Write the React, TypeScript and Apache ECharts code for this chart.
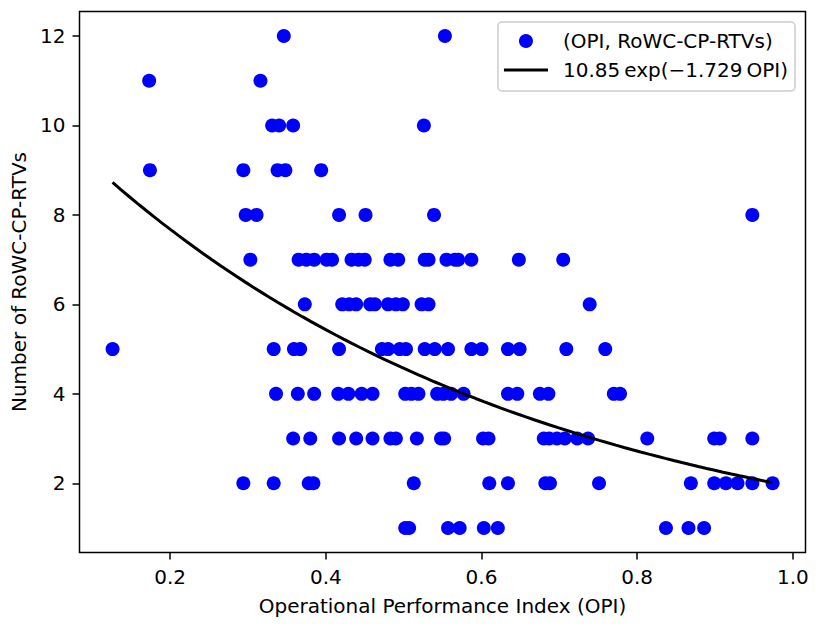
import React, { useEffect, useRef } from "react";
import * as echarts from "echarts";

// Observations: Operational Performance Index and number of RoWC-CP-RTVs
const opi: number[] = [
  0.346, 0.553,
  0.173, 0.316,
  0.331, 0.34, 0.358, 0.526,
  0.174, 0.294, 0.338, 0.348, 0.394,
  0.297, 0.311, 0.417, 0.451, 0.539, 0.948,
  0.303, 0.365, 0.375, 0.385, 0.401, 0.408, 0.433, 0.442, 0.45, 0.483, 0.493, 0.527, 0.532, 0.555, 0.566, 0.57, 0.587, 0.648, 0.705,
  0.373, 0.421, 0.43, 0.439, 0.457, 0.463, 0.48, 0.49, 0.499, 0.523, 0.532, 0.739,
  0.126, 0.333, 0.359, 0.367, 0.417, 0.472, 0.48, 0.495, 0.503, 0.527, 0.54, 0.557, 0.587, 0.6, 0.634, 0.649, 0.709, 0.759,
  0.336, 0.364, 0.385, 0.416, 0.429, 0.446, 0.46, 0.502, 0.51, 0.519, 0.543, 0.551, 0.561, 0.577, 0.634, 0.646, 0.675, 0.686, 0.77, 0.778,
  0.358, 0.38, 0.417, 0.439, 0.46, 0.483, 0.49, 0.517, 0.548, 0.552, 0.602, 0.609, 0.68, 0.687, 0.697, 0.707, 0.723, 0.737, 0.813, 0.899, 0.906, 0.948,
  0.294, 0.333, 0.378, 0.384, 0.513, 0.61, 0.634, 0.682, 0.688, 0.751, 0.869, 0.899, 0.914, 0.929, 0.948, 0.974,
  0.502, 0.507, 0.557, 0.572, 0.603, 0.621, 0.837, 0.866, 0.886,
];

const rtvs: number[] = [
  12, 12,
  11, 11,
  10, 10, 10, 10,
  9, 9, 9, 9, 9,
  8, 8, 8, 8, 8, 8,
  7, 7, 7, 7, 7, 7, 7, 7, 7, 7, 7, 7, 7, 7, 7, 7, 7, 7, 7,
  6, 6, 6, 6, 6, 6, 6, 6, 6, 6, 6, 6,
  5, 5, 5, 5, 5, 5, 5, 5, 5, 5, 5, 5, 5, 5, 5, 5, 5, 5,
  4, 4, 4, 4, 4, 4, 4, 4, 4, 4, 4, 4, 4, 4, 4, 4, 4, 4, 4, 4,
  3, 3, 3, 3, 3, 3, 3, 3, 3, 3, 3, 3, 3, 3, 3, 3, 3, 3, 3, 3, 3, 3,
  2, 2, 2, 2, 2, 2, 2, 2, 2, 2, 2, 2, 2, 2, 2, 2,
  1, 1, 1, 1, 1, 1, 1, 1, 1,
];

// Exponential fit y = A * exp(-B * OPI)
const FIT_A = 10.85;
const FIT_B = 1.729;

const xTicks = [0.2, 0.4, 0.6, 0.8, 1.0];
const yTicks = [2, 4, 6, 8, 10, 12];

const scatterName = "(OPI, RoWC-CP-RTVs)";
const fitName = `${FIT_A}\u2009exp(\u2212${FIT_B}\u2009OPI)`;

export default function App() {
  const ref = useRef<HTMLDivElement>(null);

  useEffect(() => {
    if (!ref.current) return;
    const chart = echarts.init(ref.current, undefined, { renderer: "svg" });

    const points = opi.map((x, i) => [x, rtvs[i]]);
    const xMin = Math.min(...opi);
    const xMax = Math.max(...opi);
    const steps = 80;
    const curve: number[][] = [];
    for (let i = 0; i <= steps; i++) {
      const x = xMin + ((xMax - xMin) * i) / steps;
      curve.push([x, FIT_A * Math.exp(-FIT_B * x)]);
    }

    const font = "DejaVu Sans";
    chart.setOption({
      animation: false,
      textStyle: { fontFamily: font },
      grid: {
        left: 79.5,
        right: 10.5,
        top: 11.4,
        bottom: 73.4,
        show: true,
        borderColor: "#000",
        borderWidth: 1.5,
      },
      legend: {
        orient: "vertical",
        right: 21,
        top: 22,
        itemWidth: 44,
        itemHeight: 14,
        itemGap: 9,
        padding: [9, 7, 11, 6],
        symbolKeepAspect: true,
        backgroundColor: "rgba(255,255,255,0.8)",
        borderColor: "#cccccc",
        borderWidth: 1.5,
        borderRadius: 4,
        textStyle: {
          fontFamily: font,
          fontSize: 20,
          lineHeight: 20,
          color: "#000",
          padding: [0, 0, 0, 10],
        },
        data: [
          { name: scatterName, icon: "circle" },
          { name: fitName, icon: "path://M0 0H44V3H0Z" },
        ],
      },
      xAxis: {
        type: "value",
        min: 0.0835,
        max: 1.0163,
        name: "Operational Performance Index (OPI)",
        nameLocation: "middle",
        nameGap: 43,
        nameTextStyle: { fontFamily: font, fontSize: 20, color: "#000" },
        axisLine: { show: false },
        splitLine: { show: false },
        axisTick: {
          show: true,
          customValues: xTicks,
          length: 7,
          lineStyle: { color: "#000", width: 1.5 },
        },
        axisLabel: {
          customValues: xTicks,
          margin: 14,
          fontFamily: font,
          fontSize: 20,
          color: "#000",
          formatter: (v: number) => v.toFixed(1),
        },
      },
      yAxis: {
        type: "value",
        min: 0.45,
        max: 12.55,
        name: "Number of RoWC-CP-RTVs",
        nameLocation: "middle",
        nameGap: 48,
        nameTextStyle: { fontFamily: font, fontSize: 20, color: "#000" },
        axisLine: { show: false },
        splitLine: { show: false },
        axisTick: {
          show: true,
          customValues: yTicks,
          length: 7,
          lineStyle: { color: "#000", width: 1.5 },
        },
        axisLabel: {
          customValues: yTicks,
          margin: 14,
          fontFamily: font,
          fontSize: 20,
          color: "#000",
          formatter: (v: number) => String(Math.round(v)),
        },
      },
      series: [
        {
          name: scatterName,
          type: "scatter",
          data: points,
          symbol: "circle",
          symbolSize: 14,
          itemStyle: { color: "#0000ff", opacity: 1 },
          z: 2,
        },
        {
          name: fitName,
          type: "line",
          data: curve,
          symbol: "none",
          smooth: false,
          lineStyle: { color: "#000", width: 3 },
          itemStyle: { color: "#000" },
          z: 3,
        },
      ],
    });

    return () => chart.dispose();
  }, []);

  return (
    <div
      ref={ref}
      style={{ position: "fixed", left: 0, top: 0, width: 816, height: 626, background: "#fff" }}
    />
  );
}
